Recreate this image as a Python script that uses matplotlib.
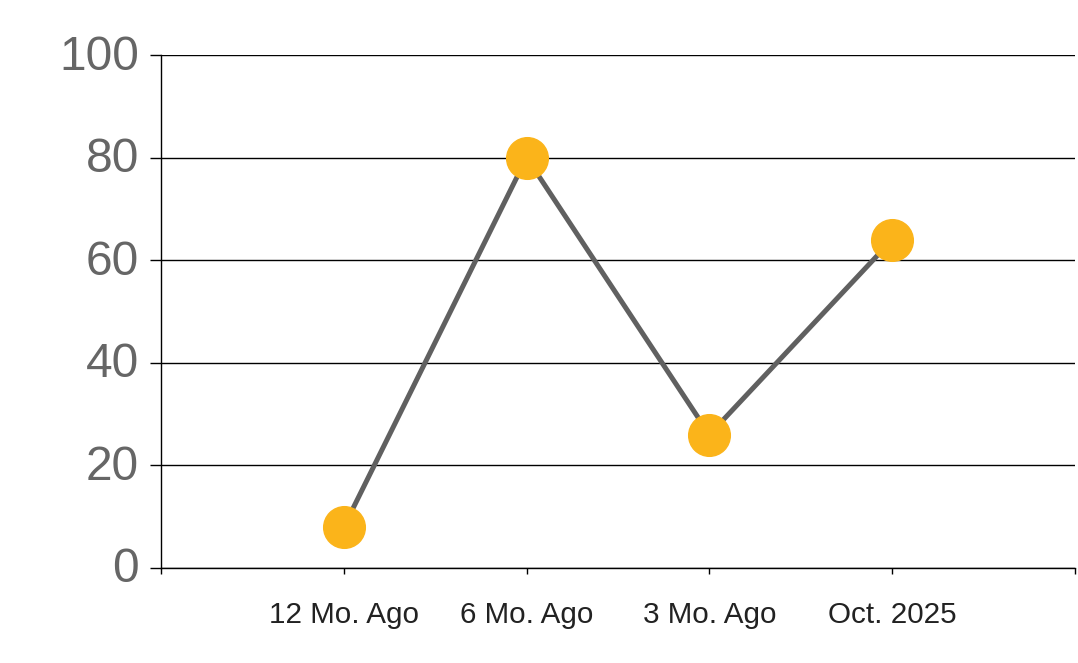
import matplotlib
matplotlib.use("Agg")
import matplotlib.pyplot as plt
from matplotlib.transforms import ScaledTranslation

categories = ["12 Mo. Ago", "6 Mo. Ago", "3 Mo. Ago", "Oct. 2025"]
values = [8, 80, 26, 64]
y_ticks = [0, 20, 40, 60, 80, 100]

plt.rcParams['font.family'] = ['Liberation Sans', 'DejaVu Sans']

fig = plt.figure(figsize=(10.78, 6.63), dpi=100)
ax = fig.add_axes([161/1078, 1 - 568/663, (1075 - 161)/1078, (568 - 55)/663])

x = list(range(1, len(categories) + 1))
ax.plot(x, values, color="#606060", lw=3.6, zorder=3, solid_capstyle='butt')
ax.plot(x, values, linestyle='none', marker='o', markersize=30,
        markerfacecolor="#FBB41A", markeredgecolor="#FBB41A", zorder=4)

ax.set_xlim(0, len(categories) + 1)
ax.set_ylim(0, 100)
ax.set_yticks(y_ticks)
ax.set_yticklabels([str(v) for v in y_ticks])
ax.set_xticks(range(0, len(categories) + 2))
ax.set_xticklabels([""] + categories + [""])

ax.grid(axis='y', color='black', lw=1)
ax.set_axisbelow(True)
for s in ['top', 'right']:
    ax.spines[s].set_visible(False)
for s in ['left', 'bottom']:
    ax.spines[s].set_linewidth(1)
    ax.spines[s].set_color('black')

ax.tick_params(axis='y', length=8, width=1, pad=8, labelsize=34.5, labelcolor="#666666")
ax.tick_params(axis='x', length=4.5, width=1, pad=19, labelsize=21.3, labelcolor="#222222")

off = ScaledTranslation(0, 3/100, fig.dpi_scale_trans)
for lbl in ax.get_yticklabels():
    lbl.set_transform(lbl.get_transform() + off)

fig.savefig("out.png", dpi=100)
